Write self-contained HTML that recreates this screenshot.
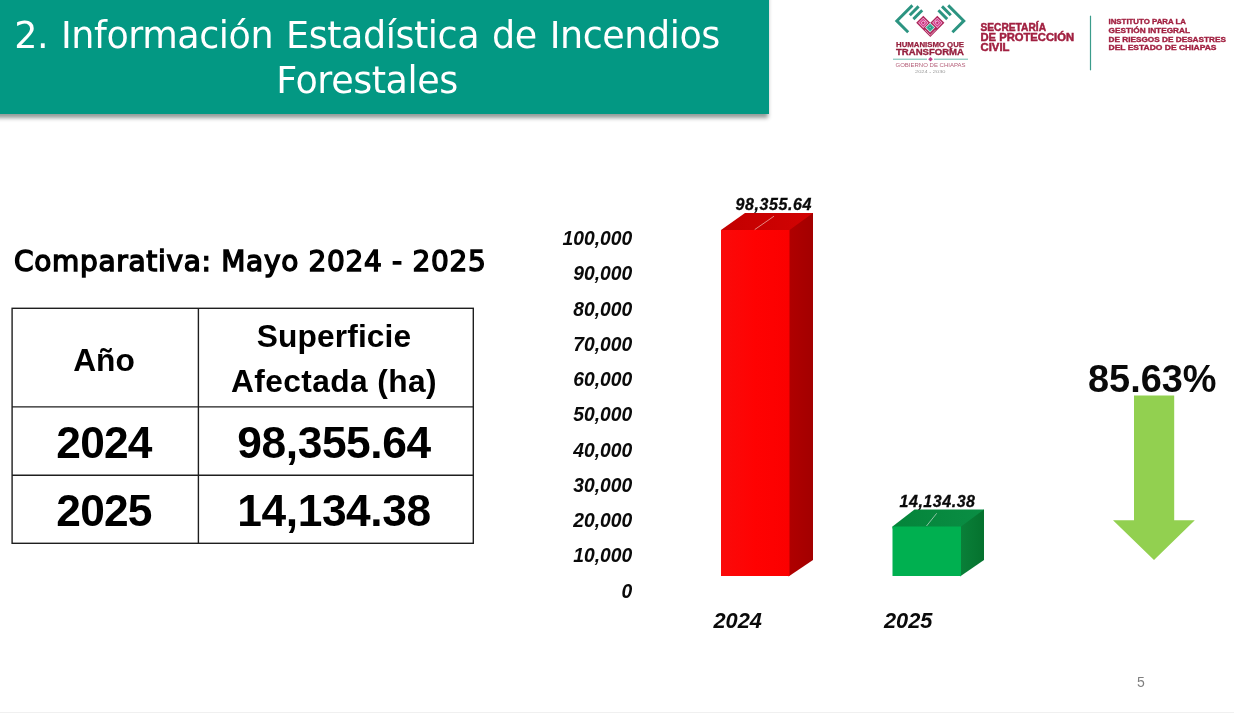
<!DOCTYPE html>
<html lang="es">
<head>
<meta charset="utf-8">
<title>2. Información Estadística de Incendios Forestales</title>
<style>
  html, body { margin: 0; padding: 0; }
  body {
    width: 1234px; height: 713px; overflow: hidden; position: relative;
    background: #ffffff;
    font-family: "Liberation Sans", sans-serif;
    color: #000;
  }
  .abs { position: absolute; }
  /* promote to own layers so text is antialiased in greyscale like the slide export */
  #banner, #subtitle, #tbl, #pageno, body > svg { will-change: transform; }

  /* ---------- header banner ---------- */
  #banner {
    left: -12px; top: -12px; width: 781px; height: 126px;
    background: #039883;
    box-shadow: 0 5px 4px -1.5px rgba(0,20,15,0.42);
  }
  #banner h1 {
    position: absolute; left: 12px; top: 26px; width: 734px; margin: 0;
    font-family: "DejaVu Sans", "Liberation Sans", sans-serif;
    font-weight: normal; font-size: 36.5px; line-height: 44.9px;
    letter-spacing: -0.45px; word-spacing: 1.8px;
    color: #ffffff; text-align: center; white-space: nowrap;
  }

  /* ---------- sub heading ---------- */
  #subtitle {
    left: 14px; top: 244.5px; margin: 0;
    font-family: "DejaVu Sans", "Liberation Sans", sans-serif;
    font-weight: normal; font-size: 28px; line-height: 34px; letter-spacing: 0.68px;
    -webkit-text-stroke: 1.4px #000;
    white-space: nowrap; color: #000;
  }

  /* ---------- data table ---------- */
  #tbl {
    left: 11.4px; top: 308px; width: 460px; height: 235px;
    border-collapse: collapse; border-spacing: 0; table-layout: fixed;
    font-weight: bold; text-align: center; color: #000;
  }
  #tbl td, #tbl th {
    border: 0; padding: 0; vertical-align: top; font-weight: bold;
    white-space: nowrap; overflow: visible;
  }
  #tbl th { font-size: 31.7px; line-height: 45px; height: 98px; box-sizing: border-box; padding-top: 6px; }
  #tbl th .l1 { letter-spacing: 0.15px; }
  #tbl th .l2 { letter-spacing: 0.4px; }
  #tbl th.c1 { width: 186px; padding-top: 30px; }
  #tbl td { font-size: 44.3px; line-height: 50px; height: 69px; box-sizing: border-box; padding-top: 12px; letter-spacing: -0.4px; }
  #tbl td:first-child { letter-spacing: -0.8px; }
  #tbl tr.r3 td { height: 68px; padding-top: 11px; }

  /* ---------- footer ---------- */
  #pageno { left: 1131px; top: 673px; width: 20px; text-align: center;
    font-size: 14px; line-height: 18px; color: #7f7f7f; }
  #strip { left: 0; top: 711.6px; width: 1234px; height: 1.4px; background: #f0f0f0; }

  svg text { font-family: "Liberation Sans", sans-serif; }
</style>
</head>
<body>

<header id="banner" class="abs">
  <h1>2. Información Estadística de Incendios<br>Forestales</h1>
</header>

<h2 id="subtitle" class="abs">Comparativa: Mayo 2024 - 2025</h2>

<table id="tbl" class="abs">
  <tr><th class="c1">Año</th><th><span class="l1">Superficie</span><br><span class="l2">Afectada (ha)</span></th></tr>
  <tr><td>2024</td><td>98,355.64</td></tr>
  <tr class="r3"><td>2025</td><td>14,134.38</td></tr>
</table>

<!-- chart + arrow + logos -->
<svg class="abs" style="left:0;top:0" width="1234" height="713" viewBox="0 0 1234 713">
  <defs>
    <linearGradient id="gr" x1="0" y1="0" x2="1" y2="0">
      <stop offset="0" stop-color="#fa0a0a"/><stop offset="0.5" stop-color="#ff0202"/><stop offset="1" stop-color="#fb0000"/>
    </linearGradient>
    <linearGradient id="gt" x1="0" y1="0" x2="1" y2="0">
      <stop offset="0" stop-color="#c20000"/><stop offset="1" stop-color="#d20303"/>
    </linearGradient>
    <linearGradient id="gs" x1="0" y1="0" x2="1" y2="0">
      <stop offset="0" stop-color="#b00000"/><stop offset="1" stop-color="#a30000"/>
    </linearGradient>
    <linearGradient id="ggt" x1="0" y1="0" x2="1" y2="0">
      <stop offset="0" stop-color="#04843a"/><stop offset="1" stop-color="#0a8e44"/>
    </linearGradient>
    <linearGradient id="gg" x1="0" y1="0" x2="1" y2="0">
      <stop offset="0" stop-color="#0a8039"/><stop offset="1" stop-color="#05722e"/>
    </linearGradient>
  </defs>

  <!-- table grid -->
  <g stroke="#1e1e1e" stroke-width="1.4" fill="none">
    <rect x="12.1" y="308.3" width="461.2" height="235"/>
    <line x1="198.4" y1="308.3" x2="198.4" y2="543.3"/>
    <line x1="12.1" y1="406.9" x2="473.3" y2="406.9"/>
    <line x1="12.1" y1="475.3" x2="473.3" y2="475.3"/>
  </g>

  <!-- y axis labels -->
  <g font-weight="bold" font-style="italic" font-size="19.5" text-anchor="end" fill="#0a0a0a" transform="translate(632.2,0) scale(0.99,1)">
    <text x="0" y="245.1">100,000</text>
    <text x="0" y="280.4">90,000</text>
    <text x="0" y="315.6">80,000</text>
    <text x="0" y="350.9">70,000</text>
    <text x="0" y="386.1">60,000</text>
    <text x="0" y="421.4">50,000</text>
    <text x="0" y="456.6">40,000</text>
    <text x="0" y="491.9">30,000</text>
    <text x="0" y="527.1">20,000</text>
    <text x="0" y="562.4">10,000</text>
    <text x="0" y="597.6">0</text>
  </g>

  <!-- red bar 2024 -->
  <polygon points="721,230 745,213 813,213 813,216 790.5,232 721,232" fill="url(#gt)"/>
  <polygon points="788.5,230.7 813,213 813,560 788.5,576.6" fill="url(#gs)"/>
  <rect x="721" y="230" width="68.5" height="346" fill="url(#gr)"/>
  <line x1="774" y1="216.2" x2="754.7" y2="229.6" stroke="#e58780" stroke-width="1"/>

  <!-- green bar 2025 -->
  <polygon points="892.5,526.5 914.5,509.5 984,509.5 984,512.5 962,528.5 892.5,528.5" fill="url(#ggt)"/>
  <polygon points="960,527.2 984,509.5 984,560 960,576.6" fill="url(#gg)"/>
  <rect x="892.5" y="526.5" width="68.5" height="49.5" fill="#00b050"/>
  <line x1="936.7" y1="513.3" x2="926.5" y2="526" stroke="#8fc3a4" stroke-width="1"/>

  <!-- data labels -->
  <g font-weight="bold" font-style="italic" font-size="16" fill="#0a0a0a" stroke="#0a0a0a" stroke-width="0.3">
    <text x="735.5" y="210" textLength="76" lengthAdjust="spacing">98,355.64</text>
    <text x="899.5" y="507.4" textLength="75.5" lengthAdjust="spacing">14,134.38</text>
  </g>

  <!-- x axis labels -->
  <g font-weight="bold" font-style="italic" font-size="21.4" fill="#0a0a0a">
    <text x="713.5" y="627.9" textLength="48.5" lengthAdjust="spacingAndGlyphs">2024</text>
    <text x="884" y="627.9" textLength="48.5" lengthAdjust="spacingAndGlyphs">2025</text>
  </g>

  <!-- green arrow -->
  <polygon points="1134,395.5 1174.2,395.5 1174.2,520.3 1194.8,520.3 1154,560 1113,520.3 1134,520.3" fill="#92d050"/>
  <text x="1088" y="391.9" font-weight="bold" font-size="38.6" fill="#0a0a0a" textLength="128.5" lengthAdjust="spacingAndGlyphs">85.63%</text>

  <!-- ===== logos ===== -->
  <g id="logo1">
    <!-- chevrons -->
    <g fill="none" stroke="#2c9481" stroke-width="2.9" stroke-linejoin="miter">
      <polyline points="912.4,5.4 896.8,20.9 908.2,32.2"/>
      <polyline points="948.2,5.4 963.8,20.9 952.4,32.2"/>
      <line x1="918.6" y1="6.4" x2="909.8" y2="15.2"/>
      <line x1="922.2" y1="10.3" x2="913.4" y2="19.1"/>
      <line x1="942" y1="6.4" x2="950.8" y2="15.2"/>
      <line x1="938.4" y1="10.3" x2="947.2" y2="19.1"/>
    </g>
    <!-- heart -->
    <polygon points="916.2,22.8 923.3,15.7 930.3,22.7 937.3,15.7 944.4,22.8 930.3,36.9" fill="#ae265c"/>
    <g transform="translate(923.3,22.8) rotate(45)">
      <rect x="-3.6" y="-3.6" width="7.2" height="7.2" fill="#f1c9dd"/>
      <rect x="-3" y="-3" width="6" height="6" fill="#d93690"/>
      <rect x="-1.8" y="-1.8" width="3.6" height="3.6" fill="#f1c9dd"/>
      <rect x="-1.15" y="-1.15" width="2.3" height="2.3" fill="#c02c74"/>
      <rect x="-0.35" y="-3.3" width="0.7" height="2" fill="#f1c9dd"/>
    </g>
    <g transform="translate(937.3,22.8) rotate(45)">
      <rect x="-3.6" y="-3.6" width="7.2" height="7.2" fill="#f1c9dd"/>
      <rect x="-3" y="-3" width="6" height="6" fill="#d93690"/>
      <rect x="-1.8" y="-1.8" width="3.6" height="3.6" fill="#f1c9dd"/>
      <rect x="-1.15" y="-1.15" width="2.3" height="2.3" fill="#c02c74"/>
      <rect x="-3.3" y="-0.35" width="2" height="0.7" fill="#f1c9dd"/>
    </g>
    <path d="M924.9 29.8 L930.3 35.2 L935.7 29.8" fill="none" stroke="#f3d3e2" stroke-width="0.7"/>
    <g transform="translate(930.1,27.6) rotate(45)">
      <rect x="-3.5" y="-3.5" width="7" height="7" fill="#f2fbf8"/>
      <rect x="-2.95" y="-2.95" width="5.9" height="5.9" fill="#3fb59d"/>
      <rect x="-1.7" y="-1.7" width="3.4" height="3.4" fill="#2c9481"/>
      <rect x="-0.7" y="-0.7" width="1.4" height="1.4" fill="#7ad4c0"/>
    </g>

    <text x="896" y="47.4" font-weight="bold" font-size="7" fill="#96203e" stroke="#96203e" stroke-width="0.25" textLength="68" lengthAdjust="spacingAndGlyphs">HUMANISMO QUE</text>
    <text x="896" y="55.4" font-weight="bold" font-size="8.6" fill="#96203e" stroke="#96203e" stroke-width="0.3" textLength="68" lengthAdjust="spacingAndGlyphs">TRANSFORMA</text>
    <line x1="893" y1="59.2" x2="927" y2="59.2" stroke="#2a9d8a" stroke-width="0.7"/>
    <line x1="934" y1="59.2" x2="968" y2="59.2" stroke="#2a9d8a" stroke-width="0.7"/>
    <polygon points="930.5,56.9 932.8,59.2 930.5,61.5 928.2,59.2" fill="#c0408a"/>
    <text x="895.5" y="67.2" font-size="5.6" fill="#b5607a" textLength="70" lengthAdjust="spacingAndGlyphs">GOBIERNO DE CHIAPAS</text>
    <text x="915" y="73.2" font-size="3.2" fill="#9a9a9a" textLength="30.5" lengthAdjust="spacingAndGlyphs">2024 - 2030</text>
  </g>

  <g id="logo2" font-weight="bold" fill="#a12040">
    <g font-size="10.1" stroke="#a12040" stroke-width="0.45">
      <text x="980.5" y="31.1" textLength="65.5" lengthAdjust="spacingAndGlyphs">SECRETARÍA</text>
      <text x="980.5" y="41" textLength="93.5" lengthAdjust="spacingAndGlyphs">DE PROTECCIÓN</text>
      <text x="980.5" y="51" textLength="29" lengthAdjust="spacingAndGlyphs">CIVIL</text>
    </g>
    <line x1="1090.5" y1="15.7" x2="1090.5" y2="70.3" stroke="#3a9c8b" stroke-width="1.2"/>
    <g font-size="7.7" stroke="#a12040" stroke-width="0.35">
      <text x="1108.5" y="24.3" textLength="77.5" lengthAdjust="spacingAndGlyphs">INSTITUTO PARA LA</text>
      <text x="1108.5" y="32.9" textLength="81.5" lengthAdjust="spacingAndGlyphs">GESTIÓN INTEGRAL</text>
      <text x="1108.5" y="41.7" textLength="117.5" lengthAdjust="spacingAndGlyphs">DE RIESGOS DE DESASTRES</text>
      <text x="1108.5" y="50.4" textLength="108" lengthAdjust="spacingAndGlyphs">DEL ESTADO DE CHIAPAS</text>
    </g>
  </g>
</svg>

<div id="pageno" class="abs">5</div>
<div id="strip" class="abs"></div>

</body>
</html>
